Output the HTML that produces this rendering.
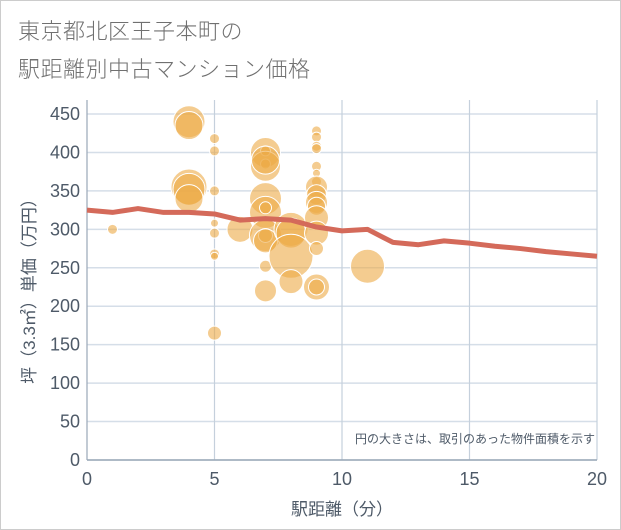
<!DOCTYPE html>
<html><head><meta charset="utf-8"><style>
body{margin:0;background:#fff}
#wrap{position:relative;width:619px;height:528px;border:1px solid #ccc;background:#fff;font-family:"Liberation Sans","Noto Sans CJK JP",sans-serif}
.t{position:absolute;left:17px;font-size:22px;color:#707070;letter-spacing:0.5px;line-height:1;font-weight:300}
</style></head><body>
<div id="wrap">
<div class="t" style="top:20px">東京都北区王子本町の</div>
<div class="t" style="top:58px">駅距離別中古マンション価格</div>
<svg id="chart" width="621" height="530" style="position:absolute;left:-1px;top:-1px"></svg>
</div>
<script>
const xTicks=[0,5,10,15,20];
const yTicks=[0,50,100,150,200,250,300,350,400,450];
const lineX=[0,1,2,3,4,5,6,7,8,9,10,11,12,13,14,15,16,17,18,19,20];
const lineY=[325,322,327,322,322,320,312,314,312,303,298,300,283,280,285,282,278,275,271,268,265];
const bubX=[1,4,4,4,4,4,5,5,5,5,5,5,5,5,6,7,7,7,7,7,7,7,7,7,7,7,7,7,8,8,8,8,9,9,9,9,9,9,9,9,9,9,9,9,9,9,9,9,11];
const bubY=[300,440,435,355,352,340,418,402,350,308,295,268,265,165,300,400,402,385,382,390,340,322,328,292,292,285,252,220,300,295,265,232,428,420,408,405,382,373,362,355,345,335,330,315,295,275,225,225,252];
const bubR=[5,16,14,18,16,14,5,5,5,4,5,5,4,7,13,15,5,5,15,14,16,16,6,16,7,12,6,11,17,15,22,12,5,5,5,5,5,4,5,11,10,11,9,12,12,7,13,8,17];
const NS='http://www.w3.org/2000/svg';
const svg=document.getElementById('chart');
const X0=87,X1=597,Y0=460,Y1=114;
const sx=v=>X0+(v-0)/20*(X1-X0);
const sy=v=>Y0-(v/450)*(Y0-Y1);
function mk(tag,attrs){const e=document.createElementNS(NS,tag);for(const k in attrs)e.setAttribute(k,attrs[k]);svg.appendChild(e);return e;}
yTicks.forEach(v=>{
 const g=mk('line',{x1:X0,x2:X1,y1:sy(v),y2:sy(v),stroke:'#d5dee8','stroke-width':1.5});
 
 
 const t=mk('text',{x:80,y:sy(v)+6,'text-anchor':'end','font-size':18,fill:'#4e5a68','font-family':'Liberation Sans, sans-serif'});
 t.textContent=v;
 
 
});
xTicks.forEach(v=>{
 const g=mk('line',{x1:sx(v),x2:sx(v),y1:Y1-14,y2:Y0,stroke:v==0?'#9aa8b8':'#c5d0dc','stroke-width':1.2});
 
 
 const t=mk('text',{x:sx(v),y:485,'text-anchor':'middle','font-size':18,fill:'#4e5a68','font-family':'Liberation Sans, sans-serif'});
 t.textContent=v;
 
 
});
const ax=mk('line',{x1:X0,x2:X1,y1:Y0,y2:Y0,stroke:'#9aa8b8','stroke-width':1.5});


bubX.forEach((v,i)=>{
 const c=mk('circle',{cx:sx(v),cy:sy(bubY[i]),r:bubR[i],fill:'rgba(236,170,70,0.6)',stroke:'#fff','stroke-width':1});
 
 
});
const p=mk('polyline',{points:lineX.map((v,i)=>sx(v)+','+sy(lineY[i])).join(' '),fill:'none',stroke:'#d46a5a','stroke-width':5,'stroke-linejoin':'round'});


const n=mk('text',{x:595,y:443,'text-anchor':'end','font-size':12,fill:'#4e5a68','font-family':'Liberation Sans, Noto Sans CJK JP, sans-serif'});
n.textContent='円の大きさは、取引のあった物件面積を示す';


const xt=mk('text',{x:342,y:515,'text-anchor':'middle','font-size':17,fill:'#4e5a68','font-family':'Liberation Sans, Noto Sans CJK JP, sans-serif'});
xt.textContent='駅距離（分）';


const yt=mk('text',{x:0,y:0,'text-anchor':'middle','font-size':17,fill:'#4e5a68','font-family':'Liberation Sans, Noto Sans CJK JP, sans-serif',transform:'translate(35,287) rotate(-90)'});
yt.textContent='坪（3.3㎡）単価（万円）';


</script>
</body></html>
